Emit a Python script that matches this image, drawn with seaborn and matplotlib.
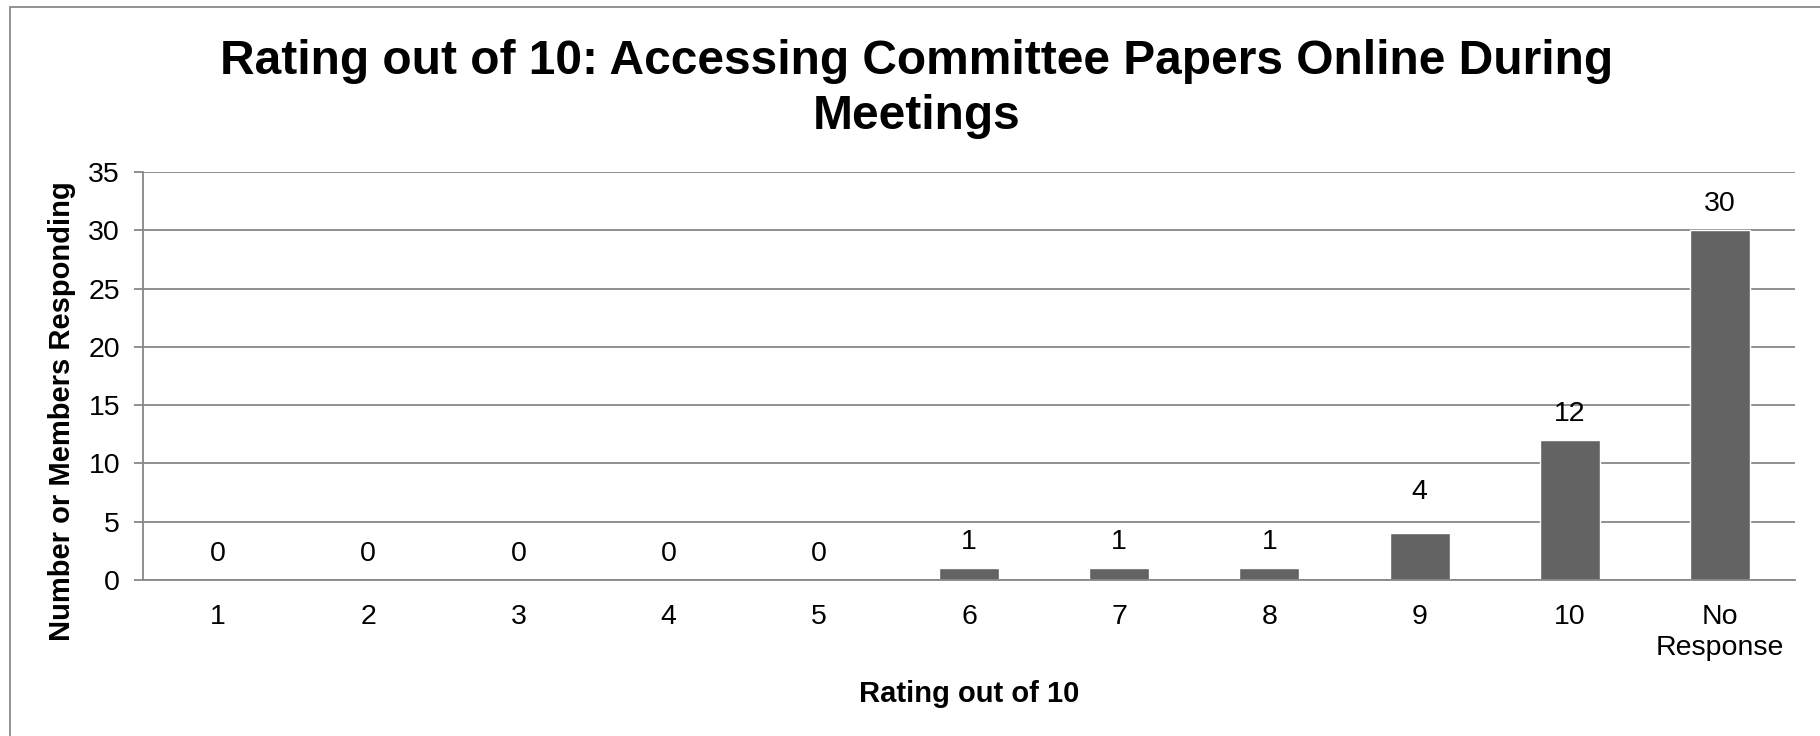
import matplotlib
matplotlib.use("Agg")
import matplotlib.pyplot as plt
import seaborn as sns
import pandas as pd
from matplotlib.patches import Rectangle

# Survey results: rating given for accessing committee papers online
categories = ["1", "2", "3", "4", "5", "6", "7", "8", "9", "10", "No\nResponse"]
responses = [0, 0, 0, 0, 0, 1, 1, 1, 4, 12, 30]
y_ticks = [0, 5, 10, 15, 20, 25, 30, 35]

title = "Rating out of 10: Accessing Committee Papers Online During\nMeetings"
x_label = "Rating out of 10"
y_label = "Number or Members Responding"

sns.set_theme(style="white")
plt.rcParams["font.family"] = ["Liberation Sans", "DejaVu Sans"]

GRID = "#878787"
BAR = "#636363"
TICK_SIZE = 20.5

df = pd.DataFrame({"rating": categories, "count": responses})

fig = plt.figure(figsize=(18.2, 7.36), dpi=100)
ax = fig.add_axes([143 / 1820, 1 - 580 / 736, (1795 - 143) / 1820, (580 - 172) / 736])

sns.barplot(data=df, x="rating", y="count", color=BAR, saturation=1,
            width=0.4, ax=ax, zorder=3)

ax.set_ylim(0, 35)
ax.set_xlim(-0.5, len(categories) - 0.5)
ax.set_yticks(y_ticks)
ax.yaxis.grid(True, color=GRID, linewidth=1.3, zorder=0)
ax.set_axisbelow(True)

for side in ["top", "right"]:
    ax.spines[side].set_visible(False)
for side in ["left", "bottom"]:
    ax.spines[side].set_color(GRID)
    ax.spines[side].set_linewidth(1.3)
    ax.spines[side].set_zorder(4)

ax.tick_params(axis="y", length=6.5, width=1.3, color=GRID, pad=10,
               labelsize=TICK_SIZE, labelcolor="black", left=True)
ax.tick_params(axis="x", length=0, pad=17, labelsize=TICK_SIZE, labelcolor="black")
ax.set_xticks(range(len(categories)))
ax.set_xticklabels(categories, linespacing=1.27)

# Value labels above each bar (the label over "9" sits a little higher)
label_offsets = {8: 41}
for i, v in enumerate(responses):
    ax.annotate(str(v), xy=(i, v), xytext=(0, label_offsets.get(i, 26)),
                textcoords="offset pixels", ha="center", va="center",
                fontsize=TICK_SIZE, color="black")

ax.set_xlabel(x_label, fontsize=21, fontweight="bold", color="black")
ax.set_ylabel(y_label, fontsize=21, fontweight="bold", color="black")
ax.xaxis.set_label_coords(0.5, -0.245)
ax.yaxis.set_label_coords(-0.0405, 0.414)

fig.text(917 / 1820, 1 - 89 / 736, title, ha="center", va="center",
         fontsize=34.5, fontweight="bold", linespacing=1.29, color="black")

# Chart-area border
fig.patches.append(Rectangle((10 / 1820, -0.1), 1.2, 1.1 - 7 / 736,
                             transform=fig.transFigure, fill=False,
                             edgecolor="#8a8a8a", linewidth=1.3))

fig.savefig("out.png", dpi=100, facecolor="white")
